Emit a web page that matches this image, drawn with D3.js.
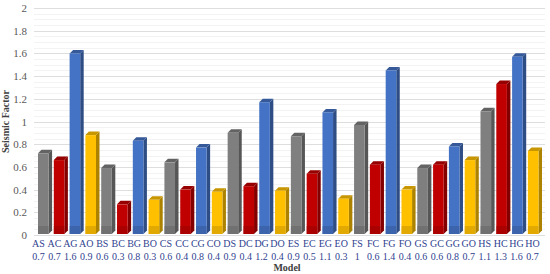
<!DOCTYPE html>
<html>
<head>
<meta charset="utf-8">
<script src="https://cdn.jsdelivr.net/npm/d3@7"></script>
<style>
body { margin: 0; background: #fff; }
svg { display: block; }
</style>
</head>
<body>
<svg id="chart" width="550" height="274"></svg>
<script>
// categories and values
var models = ["AS","AC","AG","AO","BS","BC","BG","BO","CS","CC","CG","CO","DS","DC","DG","DO",
              "ES","EC","EG","EO","FS","FC","FG","FO","GS","GC","GG","GO","HS","HC","HG","HO"];
var labels = ["0.7","0.7","1.6","0.9","0.6","0.3","0.8","0.3","0.6","0.4","0.8","0.4","0.9","0.4","1.2","0.4",
              "0.9","0.5","1.1","0.3","1","0.6","1.4","0.4","0.6","0.6","0.8","0.7","1.1","1.3","1.6","0.7"];
var factors = [0.72,0.66,1.60,0.88,0.59,0.27,0.83,0.31,0.64,0.40,0.77,0.38,0.90,0.43,1.17,0.39,
               0.87,0.54,1.08,0.32,0.97,0.62,1.45,0.40,0.59,0.62,0.78,0.66,1.09,1.33,1.57,0.74];
var yTicks = [0,0.2,0.4,0.6,0.8,1,1.2,1.4,1.6,1.8,2];

var colors = {S:"#7f7f7f", C:"#c00000", G:"#4472c4", O:"#ffc000"};

var svg = d3.select("#chart");
var pLeft = 32, gridRight = 545, pTop = 8, pBottom = 235;

// bars sit a little right of their labels (3d perspective)
var xb = d3.scaleBand()
    .domain(models)
    .range([38, 538.5])
    .paddingInner(0.33)
    .paddingOuter(0);

var xl = d3.scalePoint()
    .domain(models)
    .range([38.5, 532.5]);

var y = d3.scaleLinear()
    .domain([0, 2])
    .range([pBottom, pTop]);

// minor gridlines
svg.append("g")
    .selectAll("line")
    .data(d3.range(0, 2.001, 0.05))
    .enter().append("line")
    .attr("x1", pLeft + 2).attr("x2", gridRight)
    .attr("y1", function(d){ return Math.round(y(d)) + 0.5; })
    .attr("y2", function(d){ return Math.round(y(d)) + 0.5; })
    .style("stroke", "#f3f3f3");

// major gridlines
svg.append("g")
    .selectAll("line")
    .data(yTicks)
    .enter().append("line")
    .attr("x1", pLeft + 2).attr("x2", gridRight)
    .attr("y1", function(d){ return Math.round(y(d)) + 0.5; })
    .attr("y2", function(d){ return Math.round(y(d)) + 0.5; })
    .style("stroke", "#dedede");

// y axis labels
var yAxis = d3.axisLeft(y).tickValues(yTicks).tickSize(0).tickPadding(5)
    .tickFormat(function(d){ return String(+d.toFixed(1)); });
var ga = svg.append("g").attr("transform", "translate(" + pLeft + ",0)").call(yAxis);
ga.select(".domain").remove();
ga.selectAll("text")
    .style("font-family", "'Liberation Serif', serif")
    .style("font-size", "11px")
    .style("fill", "#595959");

svg.append("text")
    .attr("transform", "translate(9," + ((pTop + pBottom) / 2) + ") rotate(-90)")
    .attr("text-anchor", "middle")
    .style("font-family", "'Liberation Serif', serif")
    .style("font-weight", "bold")
    .style("font-size", "10px")
    .style("fill", "#404040")
    .text("Seismic Factor");

// 3d bars
var depth = 3.5;
var bars = svg.append("g")
    .selectAll("g")
    .data(models)
    .enter().append("g");

bars.each(function(m, i)
{
    var g = d3.select(this);
    var c = d3.color(colors[m[1]]);
    var bx = xb(m), bw = xb.bandwidth(), by = y(factors[i]), bb = y(0) - 1;
    // side
    g.append("path")
        .attr("d", "M" + (bx + bw) + "," + by + " L" + (bx + bw + depth) + "," + (by - depth) +
                   " L" + (bx + bw + depth) + "," + (bb - depth) + " L" + (bx + bw) + "," + bb + "Z")
        .style("fill", c.darker(1.1));
    // top
    g.append("path")
        .attr("d", "M" + bx + "," + by + " L" + (bx + depth) + "," + (by - depth) +
                   " L" + (bx + bw + depth) + "," + (by - depth) + " L" + (bx + bw) + "," + by + "Z")
        .style("fill", c.darker(0.7));
    // front
    g.append("rect")
        .attr("x", bx).attr("y", by)
        .attr("width", bw).attr("height", bb - by)
        .style("fill", c);
    // floor shade near base
    g.append("rect")
        .attr("x", bx).attr("y", bb - 8)
        .attr("width", bw).attr("height", 8)
        .style("fill", c.darker(0.6))
        .style("opacity", 0.6);
});

// category labels (name + value)
var lab = svg.append("g")
    .selectAll("g")
    .data(models)
    .enter().append("g")
    .attr("transform", function(d){ return "translate(" + xl(d) + ",0)"; });

lab.append("text")
    .attr("y", 247)
    .attr("text-anchor", "middle")
    .style("font-family", "'Liberation Serif', serif")
    .style("font-size", "10px")
    .style("fill", "#2f3f8f")
    .text(function(d){ return d; });

lab.append("text")
    .attr("y", 260)
    .attr("text-anchor", "middle")
    .style("font-family", "'Liberation Serif', serif")
    .style("font-size", "10px")
    .style("fill", "#2f3f8f")
    .text(function(d, i){ return labels[i]; });

svg.append("text")
    .attr("x", 287)
    .attr("y", 271)
    .attr("text-anchor", "middle")
    .style("font-family", "'Liberation Serif', serif")
    .style("font-weight", "bold")
    .style("font-size", "10px")
    .style("fill", "#404040")
    .text("Model");
</script>
</body>
</html>
